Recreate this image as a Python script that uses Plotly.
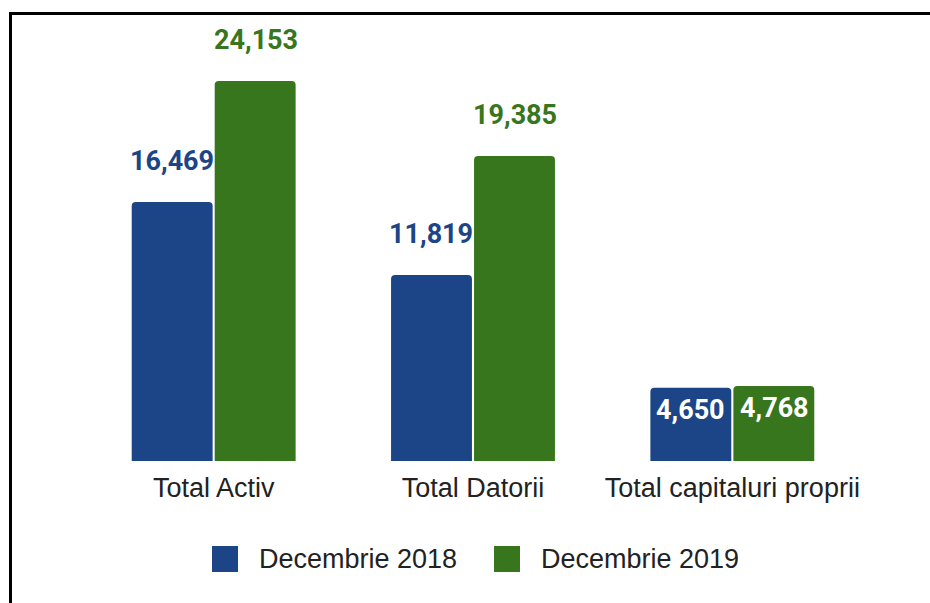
import plotly.graph_objects as go

# Balance-sheet totals, two reporting dates
categories = ["Total Activ", "Total Datorii", "Total capitaluri proprii"]
series_names = ["Decembrie 2018", "Decembrie 2019"]
values_2018 = [16469, 11819, 4650]
values_2019 = [24153, 19385, 4768]
colors = ["#1c4587", "#38761d"]

W, H = 930, 603
ML, MR, MT, MB = 84, 68, 40, 142
PW, PH = W - ML - MR, H - MT - MB


def px_x(px):
    return (px - ML) / PW


def px_y(py):
    return (H - MB - py) / PH


fig = go.Figure()
all_values = [values_2018, values_2019]
for name, vals, col in zip(series_names, all_values, colors):
    fig.add_trace(go.Bar(
        name=name, x=categories, y=vals,
        marker=dict(color=col, line=dict(width=0), cornerradius=4),
        showlegend=False, hoverinfo="x+y",
    ))

# value labels: above tall bars, inside short ones
label_font = "Roboto, 'Open Sans', sans-serif"
for i, (vals, col) in enumerate(zip(all_values, colors)):
    shift = -42 if i == 0 else 42
    for cat, v in zip(categories, vals):
        inside = v < 8000
        fig.add_annotation(
            x=cat, y=v, xref="x", yref="y",
            text=f"{v:,}", showarrow=False,
            xshift=shift, yshift=-22 if inside else 41,
            yanchor="middle", xanchor="center",
            font=dict(family=label_font, size=27, weight="bold",
                      color="white" if inside else col,
                      shadow="none" if inside else
                      "1px 1px 0 #fff, -1px -1px 0 #fff, 1px -1px 0 #fff, -1px 1px 0 #fff"),
        )

# legend drawn as square swatches with labels
legend_x = [212, 494]
for name, col, lx in zip(series_names, colors, legend_x):
    fig.add_shape(type="rect", xref="paper", yref="paper",
                  x0=px_x(lx), x1=px_x(lx + 26), y0=px_y(572), y1=px_y(546),
                  fillcolor=col, line=dict(width=0))
    fig.add_annotation(xref="paper", yref="paper", x=px_x(lx + 45), y=px_y(559),
                       text=name, showarrow=False, xanchor="left", yanchor="middle",
                       font=dict(family="Liberation Sans, Arial, sans-serif", size=27, color="#222"))

# frame lines along the left and top edges
fig.add_shape(type="line", xref="paper", yref="paper",
              x0=px_x(10.5), x1=px_x(10.5), y0=px_y(13.5), y1=px_y(620),
              line=dict(color="#000", width=3))
fig.add_shape(type="line", xref="paper", yref="paper",
              x0=px_x(9), x1=px_x(945), y0=px_y(13.5), y1=px_y(13.5),
              line=dict(color="#000", width=3))

fig.update_layout(
    width=W, height=H,
    margin=dict(l=ML, r=MR, t=MT, b=MB),
    paper_bgcolor="white", plot_bgcolor="white",
    barmode="group", bargap=0.36, bargroupgap=0.025,
    showlegend=False,
    xaxis=dict(showgrid=False, zeroline=False, showline=False, ticks="",
               tickfont=dict(family="Liberation Sans, Arial, sans-serif", size=27, color="#222"),
               ticklabelstandoff=8),
    yaxis=dict(range=[0, PH / 0.01573], showgrid=False, zeroline=False,
               showline=False, showticklabels=False, ticks=""),
)

fig.write_html("out.html")
